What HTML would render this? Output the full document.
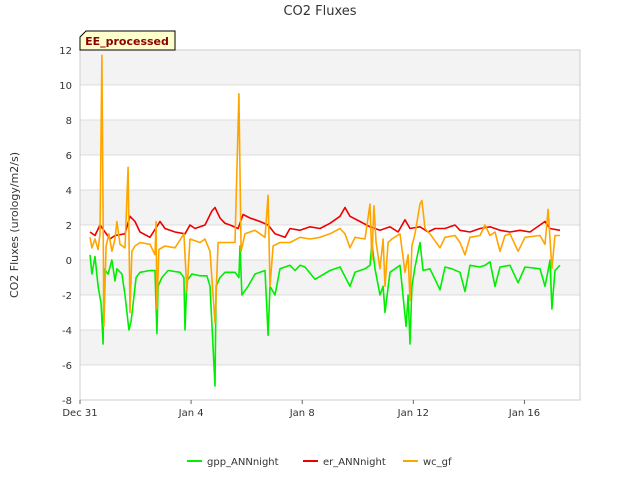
<!DOCTYPE html>
<html><head><meta charset="utf-8"><style>
body{margin:0;background:#fff;font-family:"Liberation Sans","DejaVu Sans",sans-serif}
svg text{font-family:"DejaVu Sans","Liberation Sans",sans-serif}
</style></head><body>
<svg id="c" width="640" height="480" xmlns="http://www.w3.org/2000/svg">
<rect width="640" height="480" fill="#fff"/>
<g id="bands"></g><g id="grid"></g>
<rect x="80" y="50" width="500" height="350" fill="none" stroke="#ccc"/>
<g id="series"></g><g id="axes"></g>
<text x="320" y="15" text-anchor="middle" font-size="13" fill="#333">CO2 Fluxes</text>
<text transform="translate(18,225) rotate(-90)" text-anchor="middle" font-size="11" fill="#333">CO2 Fluxes (urology/m2/s)</text>
<g>
<path d="M86,31 L175,31 L175,50 L80,50 L80,37 Z" fill="#ffffcc" stroke="#000"/>
<text x="127" y="45" text-anchor="middle" font-size="11" font-weight="bold" fill="#8b0000">EE_processed</text>
</g>
<g id="legend"></g>
</svg>
<script>
const yTicks=[-8,-6,-4,-2,0,2,4,6,8,10,12];
const xTickDays=[0,4,8,12,16];
const xTickLabels=["Dec 31","Jan 4","Jan 8","Jan 12","Jan 16"];
const gppDays=[0.36,0.43,0.54,0.65,0.76,0.83,0.86,1.01,1.15,1.26,1.33,1.51,1.62,1.76,1.84,1.91,2.02,2.16,2.52,2.70,2.77,2.81,2.95,3.17,3.60,3.74,3.78,3.85,4.03,4.32,4.57,4.68,4.86,4.90,5.04,5.22,5.58,5.72,5.76,5.83,6.05,6.30,6.66,6.77,6.84,7.02,7.20,7.56,7.74,7.92,8.10,8.46,9.00,9.36,9.72,9.90,10.26,10.44,10.51,10.62,10.80,10.91,10.98,11.16,11.34,11.52,11.74,11.81,11.88,11.95,12.06,12.24,12.35,12.60,12.96,13.14,13.39,13.68,13.86,14.04,14.40,14.58,14.76,14.94,15.12,15.48,15.77,16.02,16.56,16.74,16.85,16.92,16.99,17.10,17.28];
const gppValues=[0.3,-0.8,0.2,-1.5,-2.5,-4.8,-0.5,-0.8,0,-1.2,-0.5,-0.8,-2,-4.0,-3.5,-2.5,-1,-0.7,-0.6,-0.6,-4.2,-1.5,-1,-0.6,-0.7,-1,-4.0,-1.2,-0.8,-0.9,-0.9,-1.5,-7.2,-1.5,-1,-0.7,-0.7,-1.0,0.8,-2.0,-1.5,-0.8,-0.6,-4.3,-1.5,-2,-0.5,-0.3,-0.6,-0.3,-0.4,-1.1,-0.6,-0.4,-1.5,-0.7,-0.5,-0.3,1.0,-0.5,-2,-1.5,-3,-0.7,-0.5,-0.3,-3.8,-2,-4.8,-1.5,-0.4,1.0,-0.6,-0.5,-1.7,-0.4,-0.5,-0.7,-1.8,-0.3,-0.4,-0.3,-0.1,-1.5,-0.4,-0.3,-1.3,-0.4,-0.5,-1.5,-0.6,0.0,-2.8,-0.6,-0.3];
const erDays=[0.36,0.54,0.72,0.90,1.08,1.26,1.62,1.80,1.98,2.16,2.52,2.88,3.06,3.42,3.78,3.96,4.14,4.32,4.50,4.75,4.86,5.04,5.22,5.40,5.69,5.87,6.12,6.48,6.77,7.02,7.38,7.56,7.92,8.28,8.64,9.00,9.36,9.54,9.72,10.08,10.44,10.80,10.98,11.16,11.45,11.70,11.88,12.24,12.53,12.78,13.14,13.50,13.68,14.04,14.40,14.76,15.12,15.48,15.84,16.20,16.74,16.92,17.28];
const erValues=[1.6,1.4,2.0,1.6,1.2,1.4,1.5,2.5,2.2,1.6,1.3,2.2,1.8,1.6,1.5,2.0,1.8,1.9,2.0,2.8,3.0,2.4,2.1,2.0,1.8,2.6,2.4,2.2,2.0,1.5,1.3,1.8,1.7,1.9,1.8,2.1,2.5,3.0,2.5,2.2,1.9,1.7,1.8,1.9,1.6,2.3,1.8,1.9,1.6,1.8,1.8,2.0,1.7,1.6,1.8,1.9,1.7,1.6,1.7,1.6,2.2,1.8,1.7];
const wcDays=[0.36,0.43,0.54,0.65,0.72,0.79,0.86,0.94,1.04,1.15,1.26,1.33,1.44,1.62,1.73,1.80,1.87,1.98,2.16,2.52,2.70,2.74,2.77,2.84,3.06,3.42,3.74,3.85,3.96,4.32,4.50,4.68,4.86,4.97,5.22,5.58,5.72,5.80,5.94,6.30,6.66,6.77,6.84,6.95,7.20,7.56,7.92,8.28,8.64,9.00,9.36,9.54,9.72,9.90,10.26,10.44,10.51,10.58,10.66,10.80,10.91,10.98,11.09,11.23,11.52,11.70,11.81,11.88,11.95,12.06,12.24,12.31,12.42,12.60,12.96,13.14,13.50,13.68,13.86,14.04,14.40,14.58,14.76,14.94,15.12,15.30,15.48,15.77,16.02,16.56,16.74,16.85,16.99,17.10,17.28];
const wcValues=[1.3,0.7,1.2,0.6,1.5,11.7,-3.8,0.8,1.5,0.5,1.2,2.2,0.9,0.7,5.3,-3,0.5,0.8,1.0,0.9,0.3,2.2,-2.8,0.6,0.8,0.7,1.5,-1.8,1.2,1.0,1.2,0.5,-3.6,1.0,1.0,1.0,9.5,0.5,1.5,1.7,1.3,3.7,-1.5,0.8,1.0,1.0,1.3,1.2,1.3,1.5,1.8,1.5,0.7,1.3,1.2,3.2,0.0,3.1,1.0,-0.5,1.2,-1.5,1.0,1.2,1.5,-0.7,0.3,-2.3,0.8,1.5,3.2,3.4,1.8,1.5,0.7,1.3,1.4,1.0,0.3,1.3,1.4,2.0,1.4,1.6,0.5,1.4,1.5,0.5,1.3,1.4,0.9,2.9,-0.5,1.4,1.4];

const NS="http://www.w3.org/2000/svg";
const X0=80,X1=580,Y0=50,Y1=400,DMIN=0,DMAX=18,VMIN=-8,VMAX=12;
const xs=d=>X0+(d-DMIN)/(DMAX-DMIN)*(X1-X0);
const ys=v=>Y1-(v-VMIN)/(VMAX-VMIN)*(Y1-Y0);
function mk(tag,attrs,parent){const e=document.createElementNS(NS,tag);for(const k in attrs)e.setAttribute(k,attrs[k]);document.getElementById(parent).appendChild(e);return e;}
// bands
for(let i=0;i<yTicks.length-1;i++){
  if((yTicks.length-2-i)%2===0){
    const r=mk('rect',{x:X0,y:ys(yTicks[i+1]),width:X1-X0,height:ys(yTicks[i])-ys(yTicks[i+1]),fill:'#f3f3f3'},'bands');
    
    
  }
}
yTicks.forEach(v=>{
  const l=mk('line',{x1:X0,x2:X1,y1:ys(v),y2:ys(v),stroke:'#ddd'},'grid');
  
  
  const t=mk('text',{x:X0-8,y:ys(v)+4,'text-anchor':'end','font-size':'10',fill:'#333'},'axes');
  t.textContent=v;
  
  
});
xTickDays.forEach((d,i)=>{
  const l=mk('line',{x1:xs(d),x2:xs(d),y1:Y1,y2:Y1+4,stroke:'#666'},'axes');
  
  
  const t=mk('text',{x:xs(d),y:Y1+16,'text-anchor':'middle','font-size':'10',fill:'#333'},'axes');
  t.textContent=xTickLabels[i];
  
  
});
function line(days,vals,color,name){
  const n=Math.min(days.length,vals.length);let d='';
  for(let i=0;i<n;i++)d+=(i?'L':'M')+xs(days[i]).toFixed(1)+','+ys(vals[i]).toFixed(1);
  const p=mk('path',{d:d,fill:'none',stroke:color,'stroke-width':'1.6','stroke-linejoin':'round'},'series');
  
  
}
line(gppDays,gppValues,'#00ee00','gpp-annnight-line');
line(erDays,erValues,'#ee0000','er-annnight-line');
line(wcDays,wcValues,'#ffa500','wc-gf-line');
const legendLabels=["gpp_ANNnight","er_ANNnight","wc_gf"];
const legendColors=["#00ee00","#ee0000","#ffa500"];
const legendX=[187,303,403];
legendLabels.forEach((s,i)=>{
  const g=mk('g',{},'legend');
  
  
  const l=document.createElementNS(NS,'line');
  l.setAttribute('x1',legendX[i]);l.setAttribute('x2',legendX[i]+15);l.setAttribute('y1',461);l.setAttribute('y2',461);
  l.setAttribute('stroke',legendColors[i]);l.setAttribute('stroke-width','2');g.appendChild(l);
  const t=document.createElementNS(NS,'text');
  t.setAttribute('x',legendX[i]+20);t.setAttribute('y',465);t.setAttribute('font-size','10');t.setAttribute('fill','#333');
  t.textContent=s;g.appendChild(t);
});
</script>
</body></html>
